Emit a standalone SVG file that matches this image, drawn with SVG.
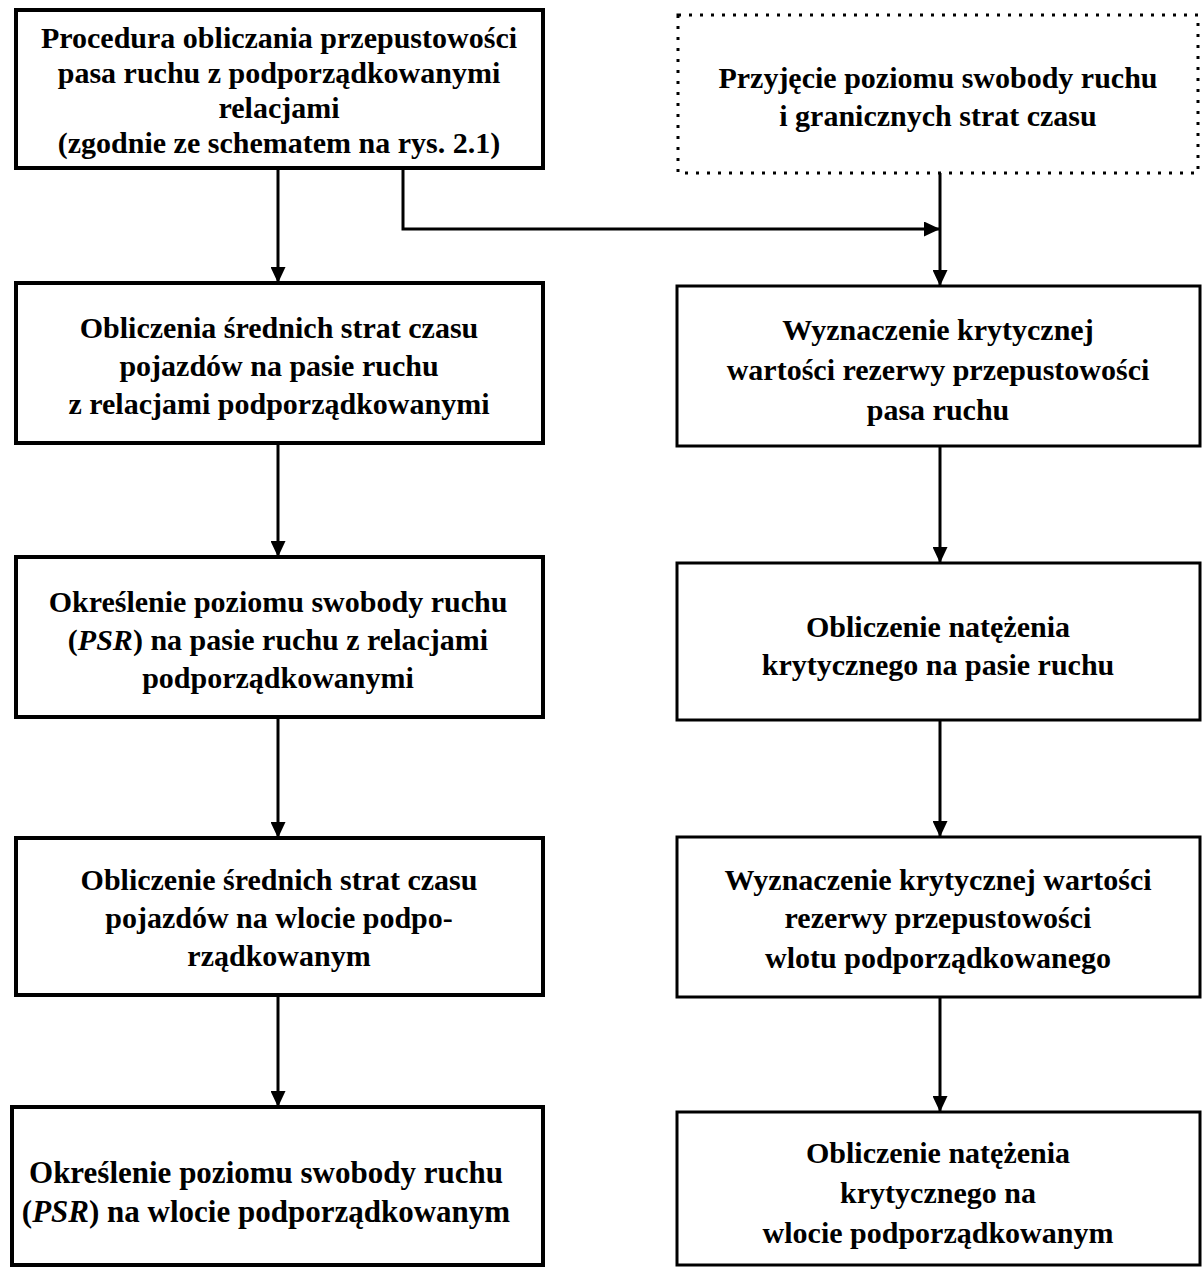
<svg xmlns="http://www.w3.org/2000/svg" width="1202" height="1270" viewBox="0 0 1202 1270">
<style>
text{font-family:"Liberation Serif","Times New Roman",serif;font-weight:bold;font-size:30px;fill:#000;text-anchor:middle}
.it{font-style:italic}
.bl{fill:#fff;stroke:#000;stroke-width:4}
.br{fill:#fff;stroke:#000;stroke-width:3}
.dot{fill:#fff;stroke:#000;stroke-width:3;stroke-dasharray:3 8}
.c{fill:none;stroke:#000;stroke-width:3}
</style>
<defs>
<marker id="ah" markerUnits="userSpaceOnUse" markerWidth="16" markerHeight="15" refX="16" refY="7.5" orient="auto">
<path d="M0,0 L16,7.5 L0,15 Z" fill="#000"/>
</marker>
</defs>
<rect width="1202" height="1270" fill="#fff"/>
<g id="connectors">
<path class="c" d="M278,168 V283" marker-end="url(#ah)"/>
<path class="c" d="M403,168 V229 H940" marker-end="url(#ah)"/>
<path class="c" d="M940,173 V286" marker-end="url(#ah)"/>
<path class="c" d="M278,443 V557" marker-end="url(#ah)"/>
<path class="c" d="M278,717 V838" marker-end="url(#ah)"/>
<path class="c" d="M278,995 V1107" marker-end="url(#ah)"/>
<path class="c" d="M940,446 V563" marker-end="url(#ah)"/>
<path class="c" d="M940,720 V837" marker-end="url(#ah)"/>
<path class="c" d="M940,997 V1112" marker-end="url(#ah)"/>
</g>
<g id="L1">
<rect class="bl" x="16" y="10" width="527" height="158"/>
<text x="279" y="48">Procedura obliczania przepustowości</text>
<text x="279" y="83">pasa ruchu z podporządkowanymi</text>
<text x="279" y="118">relacjami</text>
<text x="279" y="153">(zgodnie ze schematem na rys. 2.1)</text>
</g>
<g id="R1">
<rect class="dot" x="678" y="15" width="520" height="158"/>
<text x="938" y="88">Przyjęcie poziomu swobody ruchu</text>
<text x="938" y="126">i granicznych strat czasu</text>
</g>
<g id="L2">
<rect class="bl" x="16" y="283" width="527" height="160"/>
<text x="279" y="338">Obliczenia średnich strat czasu</text>
<text x="279" y="376">pojazdów na pasie ruchu</text>
<text x="279" y="414">z relacjami podporządkowanymi</text>
</g>
<g id="L3">
<rect class="bl" x="16" y="557" width="527" height="160"/>
<text x="278" y="612">Określenie poziomu swobody ruchu</text>
<text x="278" y="650">(<tspan class="it">PSR</tspan>) na pasie ruchu z relacjami</text>
<text x="278" y="688">podporządkowanymi</text>
</g>
<g id="L4">
<rect class="bl" x="16" y="838" width="527" height="157"/>
<text x="279" y="890">Obliczenie średnich strat czasu</text>
<text x="279" y="928">pojazdów na wlocie podpo-</text>
<text x="279" y="966">rządkowanym</text>
</g>
<g id="L5">
<rect class="bl" x="12" y="1107" width="531" height="158"/>
<text x="266" y="1183" style="font-size:31px">Określenie poziomu swobody ruchu</text>
<text x="266" y="1222" style="font-size:31px">(<tspan class="it">PSR</tspan>) na wlocie podporządkowanym</text>
</g>
<g id="R2">
<rect class="br" x="677" y="286" width="523" height="160"/>
<text x="938" y="340">Wyznaczenie krytycznej</text>
<text x="938" y="380">wartości rezerwy przepustowości</text>
<text x="938" y="420">pasa ruchu</text>
</g>
<g id="R3">
<rect class="br" x="677" y="563" width="523" height="157"/>
<text x="938" y="637">Obliczenie natężenia</text>
<text x="938" y="675">krytycznego na pasie ruchu</text>
</g>
<g id="R4">
<rect class="br" x="677" y="837" width="523" height="160"/>
<text x="938" y="890">Wyznaczenie krytycznej wartości</text>
<text x="938" y="928">rezerwy przepustowości</text>
<text x="938" y="968">wlotu podporządkowanego</text>
</g>
<g id="R5">
<rect class="br" x="677" y="1112" width="523" height="153"/>
<text x="938" y="1163">Obliczenie natężenia</text>
<text x="938" y="1203">krytycznego na</text>
<text x="938" y="1243">wlocie podporządkowanym</text>
</g>
</svg>
